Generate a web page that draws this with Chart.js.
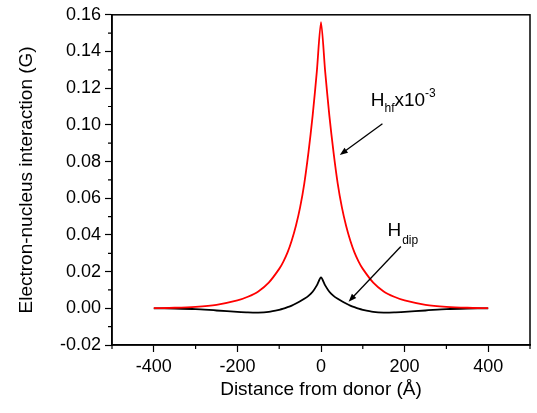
<!DOCTYPE html>
<html>
<head>
<meta charset="utf-8">
<script src="https://cdn.jsdelivr.net/npm/chart.js@4/dist/chart.umd.min.js"></script>
<style>
  html, body { margin: 0; padding: 0; background: #fff; }
  #wrap { width: 537px; height: 413px; position: relative; }
</style>
</head>
<body>
<div id="wrap"><canvas id="c" width="537" height="413"></canvas></div>
<script>
// ---- data ----
const distance = [-400, -350, -300, -250, -200, -175, -150, -125, -100, -90, -80, -70, -60, -50, -40, -30, -20, -10, 0,
                   10, 20, 30, 40, 50, 60, 70, 80, 90, 100, 125, 150, 175, 200, 250, 300, 350, 400];
const hHf = [0.0001, 0.0003, 0.0008, 0.0019, 0.0043, 0.0063, 0.0092, 0.0140, 0.0215, 0.0255, 0.0305, 0.0370, 0.0450, 0.0550, 0.0680, 0.0850, 0.1050, 0.1290, 0.1560,
             0.1290, 0.1050, 0.0850, 0.0680, 0.0550, 0.0450, 0.0370, 0.0305, 0.0255, 0.0215, 0.0140, 0.0092, 0.0063, 0.0043, 0.0019, 0.0008, 0.0003, 0.0001];
const hDip = [0.0000, -0.0001, -0.0004, -0.0012, -0.0019, -0.0022, -0.0023, -0.0019, -0.0008, -0.0002, 0.0006, 0.0015, 0.0026, 0.0038, 0.0052, 0.0068, 0.0090, 0.0125, 0.0168,
              0.0125, 0.0090, 0.0068, 0.0052, 0.0038, 0.0026, 0.0015, 0.0006, -0.0002, -0.0008, -0.0019, -0.0023, -0.0022, -0.0019, -0.0012, -0.0004, -0.0001, 0.0000];
const xTicks = [-400, -200, 0, 200, 400];
const xMinorTicks = [-500, -300, -100, 100, 300, 500];
const yTicks = [-0.02, 0.00, 0.02, 0.04, 0.06, 0.08, 0.10, 0.12, 0.14, 0.16];
const yMinorTicks = [-0.01, 0.01, 0.03, 0.05, 0.07, 0.09, 0.11, 0.13, 0.15];

// annotation anchors in data units
const hfLabelAt = [119, 0.1101];
const hfArrow = [[147, 0.1006], [45, 0.0836]];
const dipLabelAt = [159, 0.0395];
const dipArrow = [[191, 0.0337], [66, 0.0036]];

const FONT = 'Liberation Sans, Arial, Helvetica, sans-serif';

function pts(ys) { return distance.map((x, i) => ({ x: x, y: ys[i] })); }

const overlay = {
  id: 'overlay',
  afterDraw(chart) {
    const { ctx, chartArea: a, scales: { x, y } } = chart;
    ctx.save();
    ctx.strokeStyle = '#000';
    ctx.lineWidth = 1.5;
    ctx.strokeRect(a.left, a.top, a.right - a.left, a.bottom - a.top);
    ctx.lineWidth = 1.2;
    ctx.beginPath();
    xMinorTicks.forEach(v => { const px = x.getPixelForValue(v); ctx.moveTo(px, a.bottom); ctx.lineTo(px, a.bottom + 4); });
    yMinorTicks.forEach(v => { const py = y.getPixelForValue(v); ctx.moveTo(a.left, py); ctx.lineTo(a.left - 4, py); });
    ctx.stroke();

    function arrow(p0, p1) {
      const x0 = x.getPixelForValue(p0[0]), y0 = y.getPixelForValue(p0[1]);
      const x1 = x.getPixelForValue(p1[0]), y1 = y.getPixelForValue(p1[1]);
      const ang = Math.atan2(y1 - y0, x1 - x0);
      ctx.lineWidth = 1.3;
      ctx.beginPath(); ctx.moveTo(x0, y0); ctx.lineTo(x1 - 4 * Math.cos(ang), y1 - 4 * Math.sin(ang)); ctx.stroke();
      ctx.beginPath();
      ctx.moveTo(x1, y1);
      ctx.lineTo(x1 - 8 * Math.cos(ang) + 3 * Math.sin(ang), y1 - 8 * Math.sin(ang) - 3 * Math.cos(ang));
      ctx.lineTo(x1 - 8 * Math.cos(ang) - 3 * Math.sin(ang), y1 - 8 * Math.sin(ang) + 3 * Math.cos(ang));
      ctx.closePath(); ctx.fill();
    }
    ctx.fillStyle = '#000';
    ctx.textBaseline = 'alphabetic';
    ctx.textAlign = 'left';
    // H_hf x10^-3
    let px = x.getPixelForValue(hfLabelAt[0]), py = y.getPixelForValue(hfLabelAt[1]);
    ctx.font = '19px ' + FONT; ctx.fillText('H', px, py); px += ctx.measureText('H').width;
    ctx.font = '12px ' + FONT; ctx.fillText('hf', px, py + 6); px += ctx.measureText('hf').width;
    ctx.font = '19px ' + FONT; ctx.fillText('x10', px, py); px += ctx.measureText('x10').width;
    ctx.font = '12px ' + FONT; ctx.fillText('-3', px, py - 9);
    arrow(hfArrow[0], hfArrow[1]);
    // H_dip
    px = x.getPixelForValue(dipLabelAt[0]); py = y.getPixelForValue(dipLabelAt[1]);
    ctx.font = '19px ' + FONT; ctx.fillText('H', px, py); px += ctx.measureText('H').width + 1;
    ctx.font = '12px ' + FONT; ctx.fillText('dip', px, py + 8);
    arrow(dipArrow[0], dipArrow[1]);
    ctx.restore();
  }
};

new Chart(document.getElementById('c'), {
  type: 'line',
  data: {
    datasets: [
      { label: 'Hhf x10^-3', data: pts(hHf), borderColor: '#ff0000', borderWidth: 1.8, pointRadius: 0, tension: 0.25, fill: false },
      { label: 'Hdip', data: pts(hDip), borderColor: '#000000', borderWidth: 1.8, pointRadius: 0, tension: 0.25, fill: false }
    ]
  },
  options: {
    responsive: false,
    animation: false,
    layout: { padding: { top: 11, right: 7, left: 0, bottom: 0 } },
    plugins: { legend: { display: false }, tooltip: { enabled: false } },
    scales: {
      x: {
        type: 'linear', min: -500, max: 500,
        afterBuildTicks: s => { s.ticks = xTicks.map(v => ({ value: v })); },
        afterFit: s => { s.height = 68; },
        ticks: { color: '#000', font: { family: FONT, size: 18 }, padding: 4, maxRotation: 0, callback: v => String(v) },
        grid: { drawOnChartArea: false, tickLength: 7, color: '#000', tickWidth: 1.2 },
        border: { color: '#000', width: 1.5 },
        title: { display: true, text: 'Distance from donor (Å)', color: '#000', font: { family: FONT, size: 19 }, padding: { top: 0, bottom: 12 } }
      },
      y: {
        type: 'linear', min: -0.02, max: 0.16,
        afterBuildTicks: s => { s.ticks = yTicks.map(v => ({ value: v })); },
        afterFit: s => { s.width = 112; },
        ticks: { color: '#000', font: { family: FONT, size: 18 }, padding: 4, callback: v => v.toFixed(2) },
        grid: { drawOnChartArea: false, tickLength: 7, color: '#000', tickWidth: 1.2 },
        border: { color: '#000', width: 1.5 },
        title: { display: true, text: 'Electron-nucleus interaction (G)', color: '#000', font: { family: FONT, size: 19 }, padding: { top: 15, bottom: 0 } }
      }
    }
  },
  plugins: [overlay]
});
</script>
</body>
</html>
